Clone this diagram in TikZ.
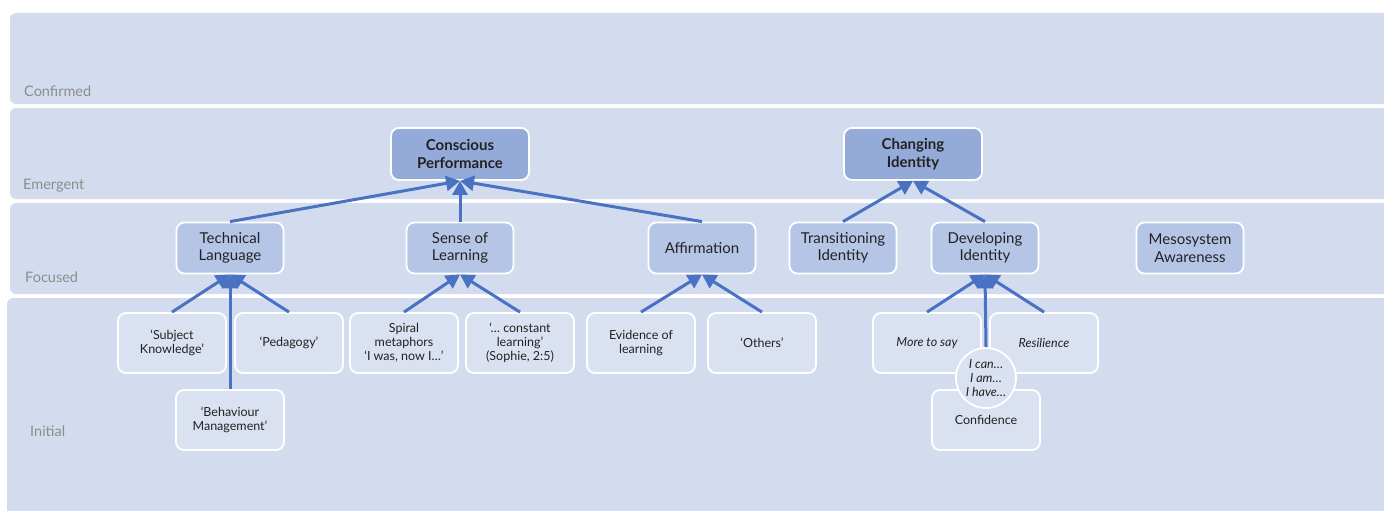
\documentclass[tikz,border=0pt]{standalone}
\usepackage{fontspec}
\setmainfont{Lato}
\usetikzlibrary{arrows.meta}

\definecolor{bandfill}{RGB}{211,220,238}
\definecolor{emergfill}{RGB}{148,170,216}
\definecolor{focusfill}{RGB}{181,197,230}
\definecolor{initfill}{RGB}{218,225,241}
\definecolor{linkblue}{RGB}{74,114,196}
\definecolor{labelgray}{RGB}{140,140,140}
\definecolor{inktext}{RGB}{34,34,34}

\tikzset{
  band/.style={fill=bandfill, rounded corners=6pt},
  bandlabel/.style={anchor=base west, text=labelgray, inner sep=0,
    font=\fontsize{14.5}{17}\selectfont},
  boxbase/.style={draw=white, line width=1.8pt, rounded corners=8pt,
    align=center, inner sep=0, text=inktext},
  emerg/.style={boxbase, fill=emergfill, minimum width=138pt, minimum height=52pt,
    font=\fontsize{15}{17.5}\selectfont\bfseries},
  focus/.style={boxbase, fill=focusfill, minimum width=107pt, minimum height=51pt,
    font=\fontsize{15}{17.5}\selectfont},
  initbox/.style={boxbase, fill=initfill, minimum width=108pt, minimum height=60pt,
    font=\fontsize{12.5}{14}\selectfont},
  slanted/.style={font=\fontsize{12.5}{14}\selectfont\itshape},
  bubble/.style={circle, draw=white, line width=1.8pt, fill=initfill,
    minimum size=60pt, inner sep=0, align=center, text=inktext,
    font=\fontsize{12.5}{14}\selectfont\itshape},
  link/.style={draw=linkblue, line width=3pt,
    -{Triangle[length=14pt,width=15pt]}}
}

\begin{document}
\begin{tikzpicture}[x=1pt,y=-1pt]
\clip (0,0) rectangle (1384,511);
\fill[white] (0,0) rectangle (1384,511);

% level bands
\fill[band] (10,13)  rectangle (1400,104);
\fill[band] (10,108) rectangle (1400,199);
\fill[band] (10,203) rectangle (1400,294);
\fill[band] (7,298)  rectangle (1400,530);

\node[bandlabel] (lconf) at (24,96)  {Confirmed};
\node[bandlabel] (lemer) at (23,189) {Emergent};
\node[bandlabel] (lfocu) at (25,282) {Focused};
\node[bandlabel] (linit) at (30,436) {Initial};

% emergent themes
\node[emerg] (cp) at (460,154) {Conscious\\Performance};
\node[emerg] (ci) at (913,154) {Changing\\Identity};

% focused codes
\node[focus] (tl) at (230,248)  {Technical\\Language};
\node[focus] (sl) at (460,248)  {Sense of\\Learning};
\node[focus] (af) at (702,248)  {Affirmation};
\node[focus] (ti) at (843,248)  {Transitioning\\Identity};
\node[focus] (di) at (985,248)  {Developing\\Identity};
\node[focus] (ma) at (1190,248) {Mesosystem\\Awareness};

% initial codes
\node[initbox] (sk) at (172,343) {‘Subject\\Knowledge’};
\node[initbox] (pe) at (289,343) {‘Pedagogy’};
\node[initbox] (bm) at (230,420) {‘Behaviour\\Management’};
\node[initbox] (sm) at (404,343) {Spiral\\metaphors\\‘I was, now I…’};
\node[initbox] (cl) at (520,343) {‘… constant\\learning’\\(Sophie, 2:5)};
\node[initbox] (ev) at (641,343) {Evidence of\\learning};
\node[initbox] (ot) at (762,343) {‘Others’};
\node[initbox, slanted] (ms) at (927,343) {More to say};
\node[initbox, slanted] (re) at (1044,343) {Resilience};
\node[initbox] (co) at (986,420) {Confidence};
\node[bubble] (ic) at (986,378) {I can…\\I am…\\I have…};

% links from codes up to themes
\draw[link] (tl.north) -- (cp.south);
\draw[link] (sl.north) -- (cp.south);
\draw[link] (af.north) -- (cp.south);
\draw[link] (ti.north) -- (ci.south);
\draw[link] (di.north) -- (ci.south);

\draw[link] (sk.north) -- (tl.south);
\draw[link] (pe.north) -- (tl.south);
\draw[link] (bm.north) -- (tl.south);
\draw[link] (sm.north) -- (sl.south);
\draw[link] (cl.north) -- (sl.south);
\draw[link] (ev.north) -- (af.south);
\draw[link] (ot.north) -- (af.south);
\draw[link] (ms.north) -- (di.south);
\draw[link] (re.north) -- (di.south);
\draw[link] (ic.north) -- (di.south);
\end{tikzpicture}
\end{document}
